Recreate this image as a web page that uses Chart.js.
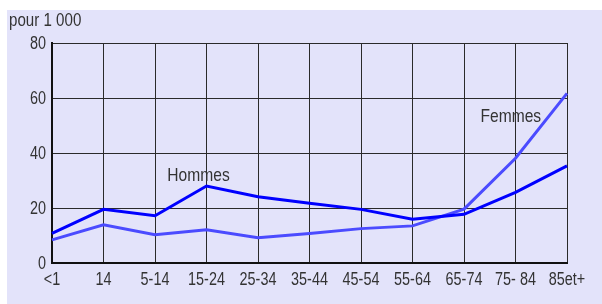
<!DOCTYPE html>
<html>
<head>
<meta charset="utf-8">
<script src="https://cdn.jsdelivr.net/npm/chart.js@4.4.1/dist/chart.umd.min.js"></script>
<style>
html, body { margin: 0; padding: 0; background: #fff; }
#wrap { width: 602px; height: 304px; position: relative; }
</style>
</head>
<body>
<div id="wrap"><canvas id="chart" width="602" height="304"></canvas></div>
<script>
// Données (pour 1 000)
const ageGroups = ['<1', '14', '5-14', '15-24', '25-34', '35-44', '45-54', '55-64', '65-74', '75- 84', '85et+'];
const hommes = [10.8, 19.5, 17.2, 28.0, 24.1, 21.7, 19.5, 15.9, 17.7, 25.7, 35.3];
const femmes = [8.4, 13.9, 10.3, 12.1, 9.2, 10.7, 12.5, 13.5, 19.6, 38.1, 61.7];
const yTicks = [0, 20, 40, 60, 80];

// Étiquettes des séries : position en (indice de catégorie, valeur à la ligne de base)
const seriesLabels = [
    { text: 'Hommes', x: 2.845, y: 29.8 },
    { text: 'Femmes', x: 8.91, y: 51.3 }
];

const FONT = "'Liberation Sans', Arial, sans-serif";
const textColor = '#333333';

// texte étroit : la police d'origine est condensée, on la resserre horizontalement
function narrowText(ctx, text, x, y, size, sx, align) {
    ctx.save();
    ctx.font = size + 'px ' + FONT;
    ctx.textAlign = align;
    ctx.textBaseline = 'alphabetic';
    ctx.translate(x, y);
    ctx.scale(sx, 1);
    ctx.fillText(text, 0, 0);
    ctx.restore();
}

const backdrop = {
    id: 'backdrop',
    beforeDraw(chart) {
        const ctx = chart.ctx;
        ctx.save();
        ctx.fillStyle = '#e3e3fa';
        ctx.fillRect(7, 10, chart.width - 7, chart.height - 10);
        ctx.restore();
    },
    afterDraw(chart) {
        const ctx = chart.ctx;
        const xs = chart.scales.x, ys = chart.scales.y;
        ctx.fillStyle = textColor;
        narrowText(ctx, 'pour 1 000', 9, 26, 18, 0.84, 'left');
        ys.ticks.forEach((t, i) => {
            narrowText(ctx, String(t.value), xs.left - 6, ys.getPixelForTick(i) + 5.5, 18, 0.8, 'right');
        });
        xs.ticks.forEach((t, i) => {
            narrowText(ctx, xs.getLabelForValue(t.value), xs.getPixelForTick(i), ys.bottom + 21.5, 18, 0.8, 'center');
        });
        seriesLabels.forEach(l => {
            narrowText(ctx, l.text, xs.getPixelForValue(l.x), ys.getPixelForValue(l.y), 19, 0.82, 'center');
        });
    }
};

new Chart(document.getElementById('chart'), {
    type: 'line',
    data: {
        labels: ageGroups,
        datasets: [
            { label: 'Hommes', data: hommes, borderColor: '#0000ff', borderWidth: 3, pointRadius: 0, tension: 0, fill: false },
            { label: 'Femmes', data: femmes, borderColor: '#4b4bff', borderWidth: 3, pointRadius: 0, tension: 0, fill: false }
        ]
    },
    options: {
        responsive: false,
        animation: false,
        layout: { padding: { left: 7, right: 35, top: 43, bottom: 0 } },
        plugins: { legend: { display: false }, tooltip: { enabled: false } },
        scales: {
            x: {
                offset: false,
                grid: { color: '#2a2a2a', lineWidth: 1, drawTicks: false },
                border: { color: '#111', width: 2 },
                ticks: { display: false, autoSkip: false },
                afterFit: s => { s.height = 41; }
            },
            y: {
                min: 0, max: 80,
                afterBuildTicks: s => { s.ticks = yTicks.map(v => ({ value: v })); },
                grid: { color: '#2a2a2a', lineWidth: 1, drawTicks: false },
                border: { color: '#111', width: 2 },
                ticks: { display: false },
                afterFit: s => { s.width = 45; }
            }
        }
    },
    plugins: [backdrop]
});
</script>
</body>
</html>
